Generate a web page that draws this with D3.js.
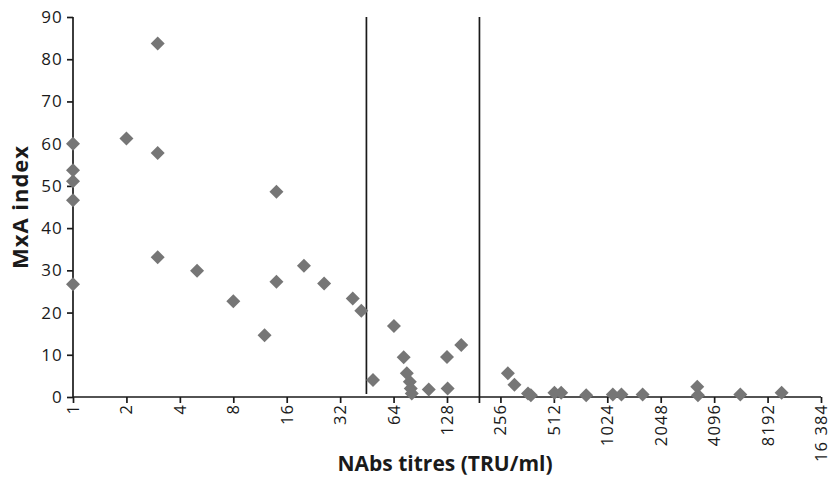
<!DOCTYPE html>
<html>
<head>
<meta charset="utf-8">
<script src="https://cdn.jsdelivr.net/npm/d3@7"></script>
<style>
  body { margin: 0; background: #fff; }
  text { font-family: "Open Sans", "Noto Sans", sans-serif; fill: #1a1a1a; }
</style>
</head>
<body>
<div id="chart"></div>
<script>
// NAbs titre (TRU/ml) of each sample
var titres = [1, 1, 1, 1, 1, 2, 3, 3, 3, 5, 8, 12, 14, 14, 20, 26, 37.7, 42.1,
    49, 64.3, 73, 76, 79, 80, 81, 101, 128, 129, 154,
    282, 307, 366, 380, 516, 563, 779, 1100, 1230, 1620, 3290, 3320, 5750, 9830];
// MxA index of each sample
var mxa = [60, 53.7, 51.1, 46.6, 26.7, 61.2, 83.7, 57.8, 33.1, 29.9, 22.7, 14.6, 48.6, 27.3, 31.1, 26.9, 23.3, 20.4,
    4.0, 16.8, 9.4, 5.6, 3.6, 2.0, 0.8, 1.8, 9.5, 2.0, 12.3,
    5.6, 2.9, 0.8, 0.4, 1.0, 1.0, 0.4, 0.6, 0.6, 0.6, 2.4, 0.4, 0.6, 1.0];
// x ticks (powers of two) and their labels
var xTicks = [1, 2, 4, 8, 16, 32, 64, 128, 256, 512, 1024, 2048, 4096, 8192, 16384];
var xTickLabels = ["1", "2", "4", "8", "16", "32", "64", "128", "256", "512", "1024", "2048", "4096", "8192", "16 384"];
var yTicks = [0, 10, 20, 30, 40, 50, 60, 70, 80, 90];
// cut-off titres drawn as vertical lines
var cutoffs = [45, 195];

var width = 830, height = 479;
var margin = {top: 17, right: 9, bottom: 82, left: 73};

var svg = d3.select("#chart").append("svg")
    .attr("width", width)
    .attr("height", height);

var x = d3.scaleLog().base(2)
    .domain([1, 16384])
    .range([margin.left, width - margin.right]);
var y = d3.scaleLinear()
    .domain([0, 90])
    .range([height - margin.bottom, margin.top]);

// y axis
var yAxis = svg.append("g")
    .attr("class", "yaxis")
    .attr("transform", "translate(" + margin.left + ",0)")
    .call(d3.axisLeft(y).tickValues(yTicks).tickSize(6).tickPadding(4));
yAxis.selectAll("text")
    .style("font-size", "17px")
    .style("letter-spacing", "1.2px");

// x axis
var xAxis = svg.append("g")
    .attr("class", "xaxis")
    .attr("transform", "translate(0," + y(0) + ")")
    .call(d3.axisBottom(x).tickValues(xTicks).tickSize(6)
          .tickFormat(function(d, i){ return xTickLabels[i]; }));
xAxis.selectAll("text")
    .style("font-size", "16.5px")
    .style("letter-spacing", "1.1px")
    .attr("text-anchor", "end")
    .attr("transform", "rotate(-90)")
    .attr("x", -7)
    .attr("y", 0)
    .attr("dy", "0.33em");

svg.selectAll(".domain, .tick line")
    .attr("stroke", "#1a1a1a")
    .attr("stroke-width", 1.7);
yAxis.select(".domain").attr("d", "M0," + y(90) + "V" + y(0));
xAxis.select(".domain").attr("d", "M" + x(1) + ",0H" + x(16384));

// cut-off lines
svg.selectAll("line.cutoff")
    .data(cutoffs)
    .enter().append("line")
    .attr("class", "cutoff")
    .attr("x1", function(d){ return x(d); })
    .attr("x2", function(d){ return x(d); })
    .attr("y1", y(90))
    .attr("y2", function(d, i){ return i == 0 ? y(0) - 3 : y(0) + 6; })
    .attr("stroke", "#1a1a1a")
    .attr("stroke-width", 1.7);

// points
var pts = titres.map(function(t, i){ return {t: t, v: mxa[i]}; });
svg.append("g").selectAll("path")
    .data(pts)
    .enter().append("path")
    .attr("d", d3.symbol().type(d3.symbolSquare).size(98))
    .attr("transform", function(d){
        return "translate(" + x(d.t) + "," + y(d.v) + ") rotate(45)";
    })
    .attr("fill", "#767676");

// axis titles
svg.append("text")
    .attr("x", 445)
    .attr("y", 471)
    .attr("text-anchor", "middle")
    .style("font-size", "21px")
    .style("font-weight", "bold")
    .text("NAbs titres (TRU/ml)");

svg.append("text")
    .attr("transform", "translate(28," + y(45) + ") rotate(-90)")
    .attr("text-anchor", "middle")
    .style("font-size", "22px")
    .style("font-weight", "bold")
    .style("letter-spacing", "1px")
    .text("MxA index");
</script>
</body>
</html>
